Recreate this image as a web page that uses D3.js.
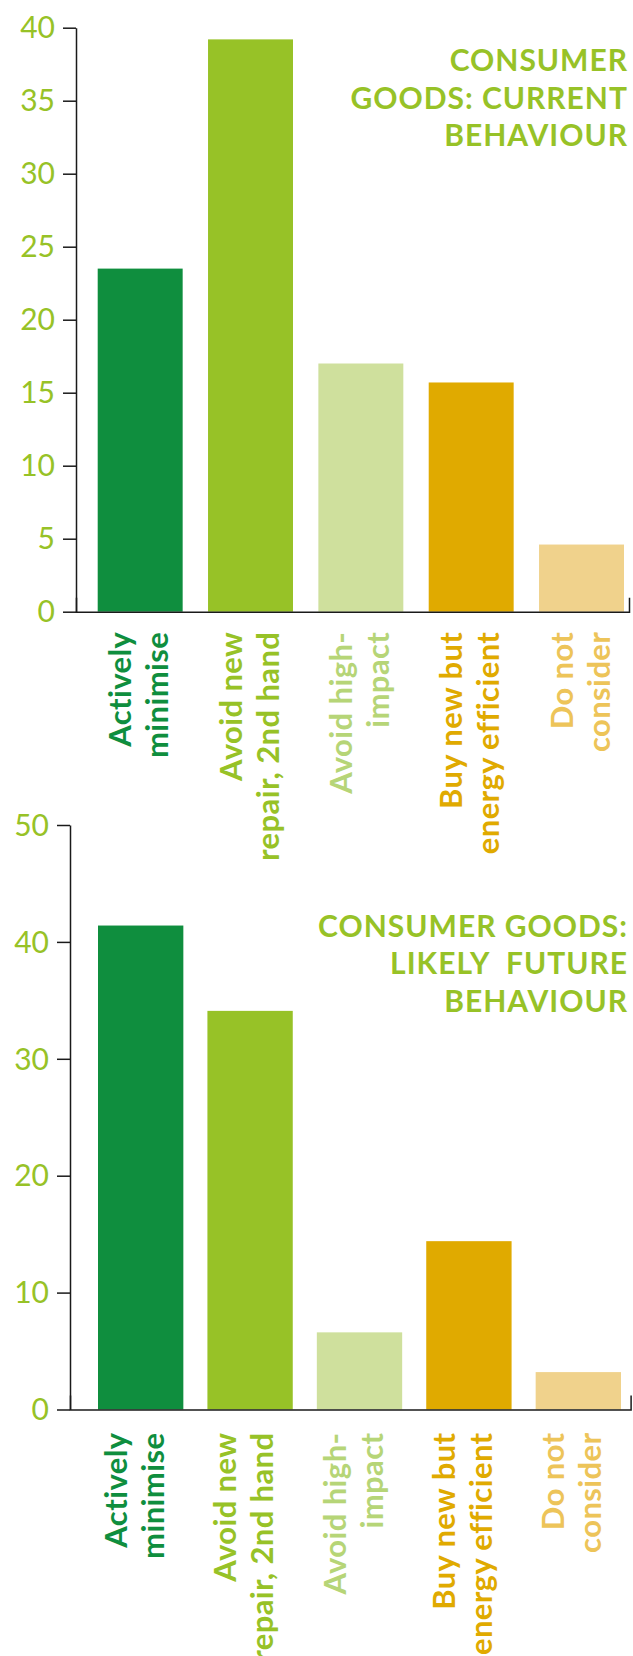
<!DOCTYPE html>
<html>
<head>
<meta charset="utf-8">
<script src="https://cdn.jsdelivr.net/npm/d3@7"></script>
<style>
  html, body { margin: 0; padding: 0; background: #fff; }
  svg { display: block; }
  .tick-label { font-family: "Lato", "Open Sans", sans-serif; font-weight: 400; }
  .cat-label { font-family: "Lato", "Open Sans", sans-serif; font-weight: 700; }
  .title { font-family: "Lato", "Open Sans", sans-serif; font-weight: 700; }
</style>
</head>
<body>
<script>
// Response categories (two text lines each, drawn rotated under the bars)
const categories = [
  ["Actively", "minimise"],
  ["Avoid new", "repair, 2nd hand"],
  ["Avoid high-", "impact"],
  ["Buy new but", "energy efficient"],
  ["Do not", "consider"]
];
const barColors   = ["#0f8e3e", "#97c227", "#cfe09d", "#e0aa00", "#f0d28c"];
const labelColors = ["#0f8e3e", "#97c227", "#b6d577", "#e0aa00", "#edc459"];

// Share of respondents (%)
const currentValues = [23.5, 39.2, 17.0, 15.7, 4.6];
const futureValues  = [41.4, 34.1, 6.6, 14.4, 3.2];

// Y axis tick labels
const currentTicks = [0, 5, 10, 15, 20, 25, 30, 35, 40];
const futureTicks  = [0, 10, 20, 30, 40, 50];

const currentTitle = ["CONSUMER", "GOODS: CURRENT", "BEHAVIOUR"];
const futureTitle  = ["CONSUMER GOODS:", "LIKELY\u00a0 FUTURE", "BEHAVIOUR"];

const W = 633, H = 1656;
const svg = d3.select("body").append("svg").attr("width", W).attr("height", H);

const TEXT_GREEN = "#97c227";
const AXIS = "#1a1a1a";

function drawChart(cfg) {
  const g = svg.append("g");
  const keys = categories.map((c, i) => i);

  const y = d3.scaleLinear().domain([0, cfg.yMax]).range([cfg.y0, cfg.yTop]);
  const x = d3.scaleBand().domain(keys).range([cfg.barStart, cfg.barEnd])
    .paddingInner(cfg.padInner).paddingOuter(0);

  // bars
  g.selectAll("rect.bar").data(cfg.values).join("rect")
    .attr("class", "bar")
    .attr("x", (d, i) => x(i))
    .attr("width", x.bandwidth())
    .attr("y", d => y(d))
    .attr("height", d => y(0) - y(d))
    .attr("fill", (d, i) => barColors[i]);

  // y axis
  const yAxis = d3.axisLeft(y).tickValues(cfg.ticks).tickSize(13).tickSizeOuter(0).tickPadding(8);
  const ya = g.append("g").attr("transform", `translate(${cfg.axisX},0)`).call(yAxis);
  ya.select(".domain").attr("stroke", AXIS).attr("stroke-width", 1.5);
  ya.selectAll(".tick line").attr("stroke", AXIS).attr("stroke-width", 1.5);
  ya.selectAll(".tick text")
    .attr("class", "tick-label")
    .attr("fill", TEXT_GREEN)
    .attr("font-size", 30)
    .attr("dy", "0.34em");

  // x baseline with short upward end ticks
  const xLine = d3.scaleLinear().range([cfg.axisX, cfg.axisRight]);
  const xa = g.append("g").attr("transform", `translate(0,${cfg.y0})`)
    .call(d3.axisBottom(xLine).tickValues([]).tickSizeOuter(-14));
  xa.select(".domain").attr("stroke", AXIS).attr("stroke-width", 1.5);

  // category labels, rotated, ending just under the axis
  keys.forEach(i => {
    const cx = x(i) + x.bandwidth() / 2 + cfg.labelShift;
    categories[i].forEach((line, j) => {
      g.append("text")
        .attr("class", "cat-label")
        .attr("transform", `translate(${cx + j * 37},${cfg.y0 + cfg.labelGap}) rotate(-90)`)
        .attr("text-anchor", "end")
        .attr("font-size", 31)
        .attr("letter-spacing", 0.4)
        .attr("fill", labelColors[i])
        .text(line);
    });
  });

  // title block, right aligned
  cfg.title.forEach((line, j) => {
    g.append("text")
      .attr("class", "title")
      .attr("x", 628)
      .attr("y", cfg.titleY + j * 37.5)
      .attr("text-anchor", "end")
      .attr("font-size", 30)
      .attr("letter-spacing", 1)
      .attr("fill", TEXT_GREEN)
      .text(line);
  });
}

drawChart({
  values: currentValues, ticks: currentTicks, yMax: 40,
  y0: 611.7, yTop: 27.7, axisX: 76, axisRight: 629,
  barStart: 97.7, barEnd: 624, padInner: 0.23,
  labelShift: -9, labelGap: 20,
  title: currentTitle, titleY: 71
});

drawChart({
  values: futureValues, ticks: futureTicks, yMax: 50,
  y0: 1409.5, yTop: 825, axisX: 70, axisRight: 630.6,
  barStart: 98, barEnd: 621, padInner: 0.22,
  labelShift: -14, labelGap: 23,
  title: futureTitle, titleY: 936.7
});
</script>
</body>
</html>
